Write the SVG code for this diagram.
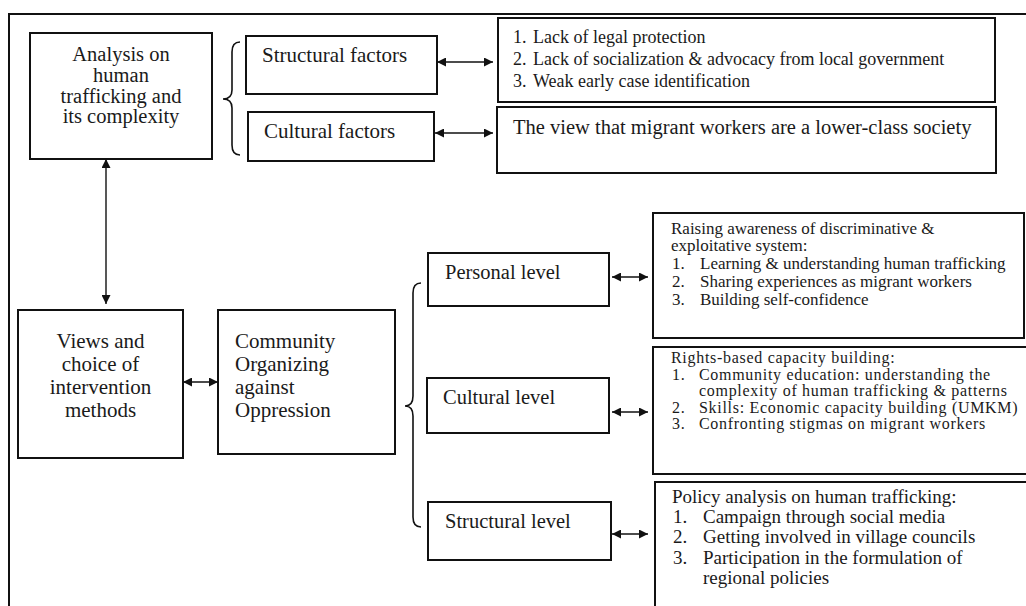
<svg xmlns="http://www.w3.org/2000/svg" width="1026" height="606" viewBox="0 0 1026 606">
  <defs>
    <marker id="ah" viewBox="0 0 10 10" refX="10" refY="5" markerUnits="userSpaceOnUse" markerWidth="10" markerHeight="9" orient="auto-start-reverse">
      <path d="M0,0 L10,5 L0,10 z" fill="#111"/>
    </marker>
  </defs>
  <style>
    .box { fill: #fff; stroke: #111; stroke-width: 2; }
    .frame { fill: none; stroke: #111; stroke-width: 2; }
    .brace { fill: none; stroke: #111; stroke-width: 1.6; }
    .conn { stroke: #111; stroke-width: 1.4; fill: none; marker-start: url(#ah); marker-end: url(#ah); }
    text { font-family: "Liberation Serif", "Times New Roman", serif; fill: #1a1a1a; }
    .t21 { font-size: 21px; }
    .t20 { font-size: 20.5px; }
    .t18 { font-size: 18px; }
    .t17 { font-size: 17px; }
    .t16 { font-size: 16px; letter-spacing: 0.7px; }
    .t19 { font-size: 19px; }
    .mid { text-anchor: middle; }
  </style>
  <rect width="1026" height="606" fill="#fff"/>
  <path class="frame" d="M9,606 L9,14 L1026,14"/>

  <g id="analysis">
    <rect class="box" x="30" y="33" width="182" height="126"/>
    <text class="t20 mid"><tspan x="121" y="61">Analysis on</tspan><tspan x="121" y="82">human</tspan><tspan x="121" y="103">trafficking and</tspan><tspan x="121" y="123">its complexity</tspan></text>
  </g>

  <g id="brace-top">
    <path class="brace" d="M240,42 Q232,42 232,52 L232,90 Q232,99 223,99 Q232,99 232,108 L232,145 Q232,155 240,155"/>
  </g>

  <g id="structural-factors">
    <rect class="box" x="246" y="36" width="191" height="58"/>
    <text class="t21" x="262" y="62">Structural factors</text>
  </g>

  <g id="cultural-factors">
    <rect class="box" x="248" y="112" width="186" height="49"/>
    <text class="t21" x="264" y="138">Cultural factors</text>
  </g>

  <g id="structural-details">
    <rect class="box" x="498" y="18" width="497" height="84"/>
    <text class="t18"><tspan x="513" y="43">1.</tspan><tspan x="533" y="43">Lack of legal protection</tspan><tspan x="513" y="65">2.</tspan><tspan x="533" y="65">Lack of socialization &amp; advocacy from local government</tspan><tspan x="513" y="87">3.</tspan><tspan x="533" y="87">Weak early case identification</tspan></text>
  </g>

  <g id="cultural-details">
    <rect class="box" x="497" y="107" width="499" height="66"/>
    <text class="t20" x="513" y="134">The view that migrant workers are a lower-class society</text>
  </g>

  <g id="views">
    <rect class="box" x="18" y="310" width="165" height="148"/>
    <text class="t21 mid"><tspan x="100.5" y="348">Views and</tspan><tspan x="100.5" y="371">choice of</tspan><tspan x="100.5" y="394">intervention</tspan><tspan x="100.5" y="417">methods</tspan></text>
  </g>

  <g id="community">
    <rect class="box" x="218" y="310" width="177" height="144"/>
    <text class="t21"><tspan x="235" y="348">Community</tspan><tspan x="235" y="371">Organizing</tspan><tspan x="235" y="394">against</tspan><tspan x="235" y="417">Oppression</tspan></text>
  </g>

  <g id="brace-levels">
    <path class="brace" d="M421,283 Q413,283 413,293 L413,396 Q413,406 405,406 Q413,406 413,416 L413,517 Q413,527 421,527"/>
  </g>

  <g id="personal-level">
    <rect class="box" x="428" y="253" width="181" height="53"/>
    <text class="t20" x="445" y="279">Personal level</text>
  </g>

  <g id="cultural-level">
    <rect class="box" x="427" y="378" width="182" height="55"/>
    <text class="t20" x="443" y="404">Cultural level</text>
  </g>

  <g id="structural-level">
    <rect class="box" x="428" y="502" width="183" height="58"/>
    <text class="t20" x="445" y="528">Structural level</text>
  </g>

  <g id="personal-details">
    <rect class="box" x="653" y="213" width="371" height="125"/>
    <text class="t17"><tspan x="671" y="234">Raising awareness of discriminative &amp;</tspan><tspan x="671" y="251">exploitative system:</tspan><tspan x="672" y="269">1.</tspan><tspan x="700" y="269">Learning &amp; understanding human trafficking</tspan><tspan x="672" y="287">2.</tspan><tspan x="700" y="287">Sharing experiences as migrant workers</tspan><tspan x="672" y="305">3.</tspan><tspan x="700" y="305">Building self-confidence</tspan></text>
  </g>

  <g id="cultural-level-details">
    <rect class="box" x="653" y="347" width="380" height="127"/>
    <text class="t16"><tspan x="671" y="363">Rights-based capacity building:</tspan><tspan x="672" y="379.5">1.</tspan><tspan x="699" y="379.5">Community education: understanding the</tspan><tspan x="699" y="396">complexity of human trafficking &amp; patterns</tspan><tspan x="672" y="412.5">2.</tspan><tspan x="699" y="412.5">Skills: Economic capacity building (UMKM)</tspan><tspan x="672" y="429">3.</tspan><tspan x="699" y="429">Confronting stigmas on migrant workers</tspan></text>
  </g>

  <g id="structural-level-details">
    <rect class="box" x="655" y="482" width="380" height="140"/>
    <text class="t19"><tspan x="672" y="503">Policy analysis on human trafficking:</tspan><tspan x="673" y="523">1.</tspan><tspan x="703" y="523">Campaign through social media</tspan><tspan x="673" y="543">2.</tspan><tspan x="703" y="543">Getting involved in village councils</tspan><tspan x="673" y="564">3.</tspan><tspan x="703" y="564">Participation in the formulation of</tspan><tspan x="703" y="584">regional policies</tspan></text>
  </g>

  <g id="connectors">
    <line class="conn" x1="437" y1="62" x2="493" y2="62"/>
    <line class="conn" x1="435" y1="133" x2="493" y2="133"/>
    <line class="conn" x1="106" y1="159" x2="106" y2="304"/>
    <line class="conn" x1="183" y1="382" x2="218" y2="382"/>
    <line class="conn" x1="612" y1="277" x2="648" y2="277"/>
    <line class="conn" x1="612" y1="412" x2="648" y2="412"/>
    <line class="conn" x1="612" y1="534" x2="648" y2="534"/>
  </g>
</svg>
